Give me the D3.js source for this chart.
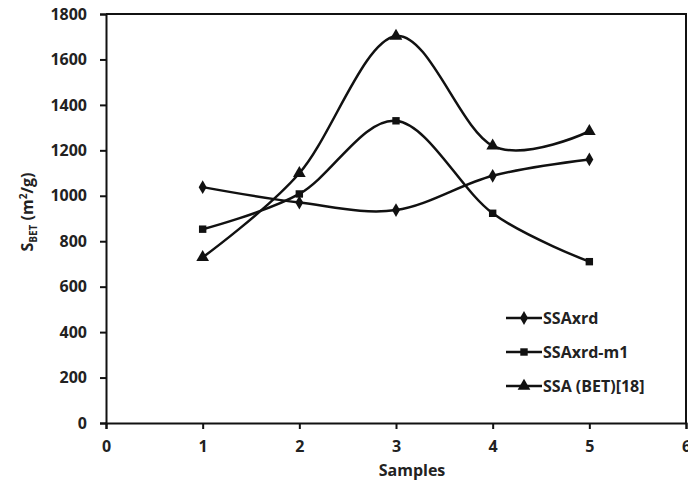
<!DOCTYPE html>
<html><head><meta charset="utf-8">
<script src="https://cdn.jsdelivr.net/npm/d3@7"></script>
<style>body{margin:0;background:#fff}svg text{font-family:"Open Sans",sans-serif;font-weight:700;fill:#222}</style>
</head><body><svg id="c" width="688" height="488"></svg>
<script>
const samples = [1, 2, 3, 4, 5];
const ssaXrd = [1038, 970, 937, 1088, 1160];
const ssaXrdM1 = [853, 1008, 1330, 923, 710];
const ssaBet = [729, 1099, 1703, 1220, 1284];
const seriesNames = ["SSAxrd", "SSAxrd-m1", "SSA (BET)[18]"];
const xTicks = [0, 1, 2, 3, 4, 5, 6];
const yTicks = [0, 200, 400, 600, 800, 1000, 1200, 1400, 1600, 1800];

const svg = d3.select("#c");
const L = 106, R = 686, T = 14, B = 423;
const x = d3.scaleLinear().domain([0, 6]).range([L, R]);
const y = d3.scaleLinear().domain([0, 1800]).range([B, T]);

// frame
svg.append("path").attr("d", `M${L},${T}H${R}V${B}`).attr("fill", "none").attr("stroke", "#111").attr("stroke-width", 2);

const xa = svg.append("g").attr("transform", `translate(0,${B})`)
  .call(d3.axisBottom(x).tickValues(xTicks).tickSize(6).tickPadding(12).tickFormat(d3.format("d")));
const ya = svg.append("g").attr("transform", `translate(${L},0)`)
  .call(d3.axisLeft(y).tickValues(yTicks).tickSize(6).tickPadding(13).tickFormat(d3.format("d")));
[xa, ya].forEach(g => {
  g.select(".domain").attr("stroke", "#111").attr("stroke-width", 2);
  g.selectAll(".tick line").attr("stroke", "#111").attr("stroke-width", 2);
  g.selectAll(".tick text").style("font-size", "16px").attr("fill", "#222");
});
xa.selectAll(".tick text").attr("dy", "0.71em");

svg.append("text").attr("x", 412).attr("y", 476).attr("text-anchor", "middle").style("font-size", "16px").text("Samples");

const yl = svg.append("text").attr("transform", "translate(33,212) rotate(-90)").attr("text-anchor", "middle").style("font-size", "16px");
yl.append("tspan").text("S");
yl.append("tspan").attr("dy", 4).style("font-size", "10px").text("BET");
yl.append("tspan").attr("dy", -4).text(" (m");
yl.append("tspan").attr("dy", -6).style("font-size", "10px").text("2");
yl.append("tspan").attr("dy", 6).text("/g)");

const series = [ssaXrd, ssaXrdM1, ssaBet];
const symbols = [d3.symbolDiamond, d3.symbolSquare, d3.symbolTriangle];
const sizes = [55, 55, 70];
const line = d3.line().x((d, i) => x(samples[i])).y(d => y(d)).curve(d3.curveCardinal.tension(0));

series.forEach((s, k) => {
  svg.append("path").attr("d", line(s)).attr("fill", "none").attr("stroke", "#111").attr("stroke-width", 2.5);
  svg.selectAll(null).data(s).enter().append("path")
    .attr("transform", (d, i) => `translate(${x(samples[i])},${y(d)})`)
    .attr("d", d3.symbol().type(symbols[k]).size(sizes[k])).attr("fill", "#111");
});

// legend
const ly = [318, 352, 386];
seriesNames.forEach((n, k) => {
  svg.append("line").attr("x1", 506).attr("x2", 542).attr("y1", ly[k]).attr("y2", ly[k]).attr("stroke", "#111").attr("stroke-width", 2.5);
  svg.append("path").attr("transform", `translate(524,${ly[k]})`).attr("d", d3.symbol().type(symbols[k]).size(sizes[k])).attr("fill", "#111");
  svg.append("text").attr("x", 543).attr("y", ly[k]).attr("dy", "0.35em").style("font-size", "16px").text(n);
});
</script></body></html>
